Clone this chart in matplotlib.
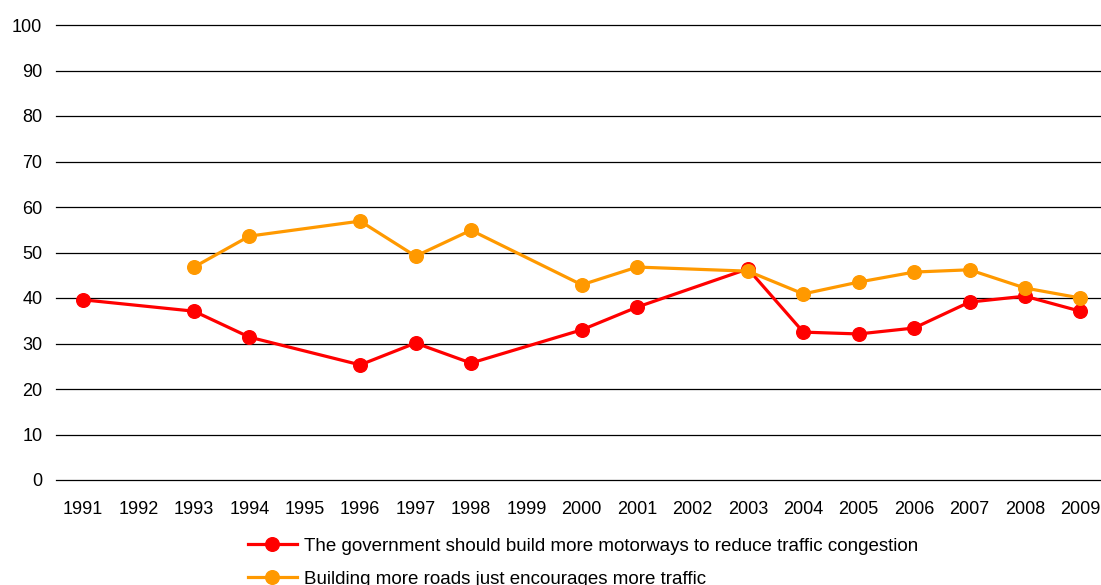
import matplotlib
matplotlib.use("Agg")
import matplotlib.pyplot as plt
import numpy as np

plt.rcParams['font.family'] = ['Liberation Sans', 'DejaVu Sans']

years = ["1991", "1992", "1993", "1994", "1995", "1996", "1997", "1998", "1999", "2000",
         "2001", "2002", "2003", "2004", "2005", "2006", "2007", "2008", "2009"]
government = [39.6, None, 37.1, 31.4, None, 25.3, 30.1, 25.7, None, 33.0,
              38.0, None, 46.4, 32.5, 32.1, 33.4, 39.1, 40.4, 37.1]
roads = [None, None, 46.8, 53.6, None, 56.9, 49.2, 54.9, None, 42.9,
         46.8, None, 45.9, 40.9, 43.5, 45.7, 46.2, 42.2, 40.0]
yticks = [0, 10, 20, 30, 40, 50, 60, 70, 80, 90, 100]
labels = ["The government should build more motorways to reduce traffic congestion",
          "Building more roads just encourages more traffic"]

fig = plt.figure(figsize=(11.01, 5.85), dpi=100)
ax = fig.add_axes([55.5/1101, 1-480/585, (1108-55.5)/1101, (480-25)/585])

def pts(vals):
    xs = [i for i, v in enumerate(vals) if v is not None]
    ys = [v for v in vals if v is not None]
    return xs, ys

for vals, col, lab, z in [(government, "#FF0000", labels[0], 3), (roads, "#FF9900", labels[1], 4)]:
    xs, ys = pts(vals)
    ax.plot(xs, ys, color=col, lw=2.3, marker='o', markersize=9.8, label=lab, zorder=z)

ax.set_xlim(-0.5, len(years) - 0.5)
ax.set_ylim(0, 100)
ax.set_yticks(yticks)
ax.set_xticks(range(len(years)))
ax.set_xticklabels(years)
ax.grid(axis='y', color='black', lw=0.9)
for gl in ax.get_ygridlines():
    gl.set_clip_on(False)
ax.set_axisbelow(True)
for s in ax.spines.values():
    s.set_visible(False)
ax.tick_params(axis='both', length=0, labelsize=13)
ax.tick_params(axis='y', pad=9.5)
ax.tick_params(axis='x', pad=15)

handles, labs = ax.get_legend_handles_labels()
fig.legend(handles, labs, loc='upper left', bbox_to_anchor=(240/1101, 1-530/585),
           frameon=False, fontsize=13.5, handlelength=2.65, handletextpad=0.35,
           labelspacing=0.85, borderaxespad=0)

fig.savefig("out.png", dpi=100)
